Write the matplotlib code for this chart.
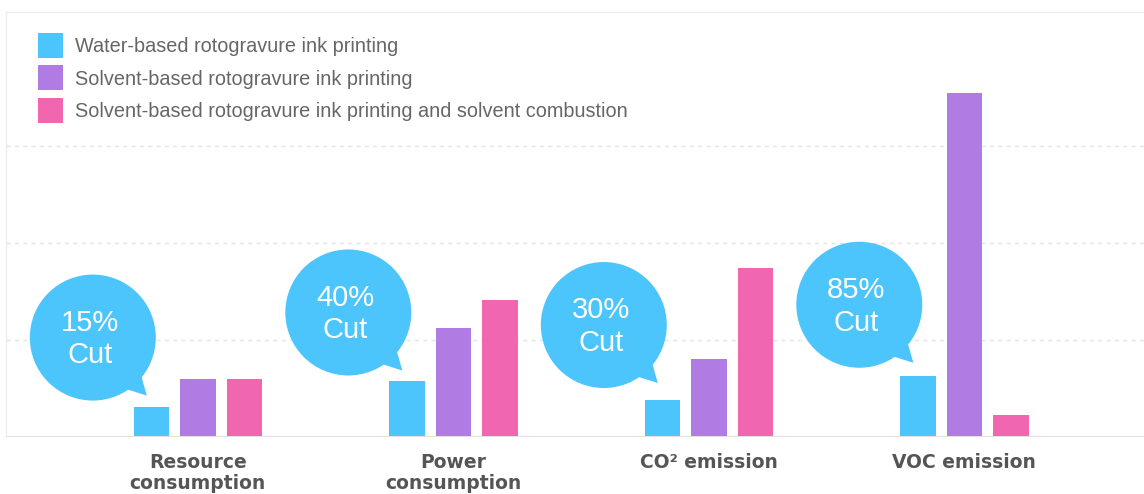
import matplotlib
matplotlib.use("Agg")
import matplotlib.pyplot as plt
from matplotlib.patches import Ellipse, Polygon
import numpy as np

# ---- data ----
categories = ["Resource\nconsumption", "Power\nconsumption", "CO\u00b2 emission", "VOC emission"]
series_names = ["Water-based rotogravure ink printing",
                "Solvent-based rotogravure ink printing",
                "Solvent-based rotogravure ink printing and solvent combustion"]
water_based = [0.30, 0.57, 0.37, 0.62]
solvent_based = [0.59, 1.12, 0.80, 3.55]
solvent_combustion = [0.59, 1.41, 1.74, 0.22]
cut_labels = ["15%\nCut", "40%\nCut", "30%\nCut", "85%\nCut"]
bubble_y = [1.02, 1.28, 1.15, 1.36]

colors = ["#4CC5FD", "#B07BE2", "#F067B0"]

# ---- layout (pixels) ----
W, H = 1144, 494
ax_left, ax_right, ax_top, ax_bottom = 6, 1144, 12, 436
px_x = 255.5   # pixels per category unit
px_y = 96.5    # pixels per value unit
x0 = 197.8     # pixel x of first category

fig = plt.figure(figsize=(W / 100, H / 100), dpi=100)
fig.patch.set_facecolor("white")
ax = fig.add_axes([ax_left / W, 1 - ax_bottom / H,
                   (ax_right - ax_left) / W, (ax_bottom - ax_top) / H])
ax.set_xlim((ax_left - x0) / px_x, (ax_right - x0) / px_x)
ax.set_ylim(0, (ax_bottom - ax_top) / px_y)

x = np.arange(len(categories))
bw = 35.5 / px_x
off = 46.5 / px_x
series = [water_based, solvent_based, solvent_combustion]
for k, (vals, name, c) in enumerate(zip(series, series_names, colors)):
    ax.bar(x + (k - 1) * off, vals, width=bw, color=c, label=name, linewidth=0, zorder=3)

# grid & spines
ax.set_yticks([1, 2, 3])
ax.yaxis.grid(True, color="#e4e4e4", linestyle=(0, (3, 3)), linewidth=1, zorder=0)
ax.tick_params(axis="y", length=0, labelleft=False)
ax.tick_params(axis="x", length=0, pad=12.2)
for s in ["left", "top"]:
    ax.spines[s].set_color("#ededed")
    ax.spines[s].set_linewidth(1)
ax.spines["bottom"].set_color("#e2e2e2")
ax.spines["right"].set_visible(False)

ax.set_xticks(x)
ax.set_xticklabels(categories, fontsize=13.5, fontweight="bold", color="#555555",
                   family="DejaVu Sans", va="top")
for t in ax.get_xticklabels():
    t.set_linespacing(1.15)

# speech bubbles
r = 63
for i, (lab, by) in enumerate(zip(cut_labels, bubble_y)):
    cx = i - 105 / px_x
    cy = by
    ax.add_patch(Ellipse((cx, cy), 2 * r / px_x, 2 * r / px_y,
                         facecolor=colors[0], edgecolor="none", zorder=4))
    tail = [(48.7, -39.2), (54, -58), (34.3, -51.8), (30, -40)]
    ax.add_patch(Polygon([(cx + dx / px_x, cy + dy / px_y) for dx, dy in tail],
                         closed=True, facecolor=colors[0], edgecolor="none", zorder=4))
    ax.text(cx - 3 / px_x, cy - 1.5 / px_y, lab, ha="center", va="center",
            fontsize=21, color="white", family="Liberation Sans",
            linespacing=1.22, zorder=5)

# legend
fs = 14.3
fs_px = fs * 100 / 72
hh = (25 / fs_px - 0.245) / 0.65
ax.legend(loc="upper left", bbox_to_anchor=(38 / W, 1 - 33 / H),
          bbox_transform=fig.transFigure, frameon=False,
          prop=dict(family="Liberation Sans", size=fs), labelcolor="#666666",
          handlelength=25 / fs_px, handleheight=hh,
          handletextpad=12 / fs_px, labelspacing=7.5 / fs_px,
          borderpad=0, borderaxespad=0)

fig.savefig("out.png", dpi=100, facecolor="white")
